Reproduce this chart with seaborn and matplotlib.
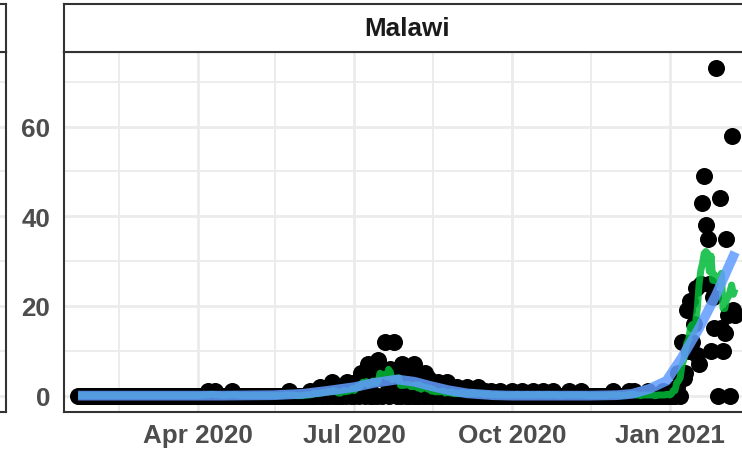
import numpy as np
import pandas as pd
import seaborn as sns
import matplotlib.pyplot as plt

# daily deaths, Malawi; every day not listed below is 0
start_date = "2020-01-22"
end_date = "2021-02-08"

death_days = [
    "2020-04-07", "2020-04-11", "2020-04-21", "2020-05-24",
    "2020-06-05", "2020-06-09", "2020-06-11", "2020-06-14", "2020-06-16", "2020-06-18",
    "2020-06-20", "2020-06-22", "2020-06-25", "2020-06-27", "2020-06-28", "2020-06-30",
    "2020-07-02", "2020-07-03", "2020-07-05", "2020-07-06", "2020-07-08", "2020-07-09",
    "2020-07-11", "2020-07-13", "2020-07-15", "2020-07-16", "2020-07-18", "2020-07-19",
    "2020-07-20", "2020-07-22", "2020-07-23", "2020-07-24", "2020-07-25", "2020-07-27",
    "2020-07-29", "2020-07-30", "2020-08-01", "2020-08-03", "2020-08-05", "2020-08-07",
    "2020-08-09", "2020-08-11", "2020-08-13", "2020-08-15", "2020-08-17", "2020-08-19",
    "2020-08-22", "2020-08-24", "2020-08-27", "2020-08-30", "2020-09-02", "2020-09-05",
    "2020-09-08", "2020-09-11", "2020-09-15", "2020-09-19", "2020-09-24",
    "2020-10-01", "2020-10-07", "2020-10-13", "2020-10-19", "2020-10-25", "2020-11-03",
    "2020-11-10", "2020-11-29", "2020-12-08", "2020-12-11", "2020-12-19", "2020-12-28",
    "2021-01-02", "2021-01-05", "2021-01-06", "2021-01-08", "2021-01-09", "2021-01-10",
    "2021-01-11", "2021-01-12", "2021-01-13", "2021-01-14", "2021-01-15", "2021-01-16",
    "2021-01-17", "2021-01-18", "2021-01-19", "2021-01-20", "2021-01-21", "2021-01-22",
    "2021-01-23", "2021-01-24", "2021-01-25", "2021-01-26", "2021-01-27", "2021-01-28",
    "2021-01-30", "2021-01-31", "2021-02-01", "2021-02-02", "2021-02-03", "2021-02-04",
    "2021-02-06", "2021-02-07", "2021-02-08",
]
death_counts = [
    1, 1, 1, 1,
    1, 1, 2, 1, 2, 3,
    1, 2, 1, 3, 2, 1,
    3, 2, 5, 3, 4, 7,
    3, 5, 8, 4, 6, 12,
    3, 6, 2, 12, 2, 4,
    7, 3, 2, 5, 7, 2,
    3, 5, 4, 1, 2, 3,
    1, 3, 1, 2, 1, 2,
    1, 2, 1, 1, 1,
    1, 1, 1, 1, 1, 1,
    1, 1, 1, 1, 1, 1,
    1, 2, 5, 12, 4, 5,
    19, 10, 21, 12, 16, 24,
    9, 7, 25, 43, 49, 38,
    35, 25, 10, 22, 15, 73,
    44, 15, 10, 14, 35, 18,
    58, 19, 18,
]

# blue smooth
smooth_days = [
    "2020-01-22", "2020-03-01", "2020-04-15", "2020-05-15", "2020-06-01", "2020-06-16",
    "2020-07-01", "2020-07-12", "2020-07-26", "2020-08-05", "2020-08-15", "2020-08-25",
    "2020-09-05", "2020-09-20", "2020-10-01", "2020-10-15", "2020-11-15", "2020-12-01",
    "2020-12-10", "2020-12-20", "2020-12-30", "2021-01-08", "2021-01-18", "2021-01-28",
    "2021-02-08",
]
smooth_values = [
    0.0, 0.0, 0.0, 0.1, 0.4, 1.1,
    1.9, 2.8, 3.6, 3.1, 2.1, 1.2,
    0.5, 0.1, 0.0, 0.0, 0.0, 0.1,
    0.4, 1.5, 3.3, 8.5, 15.0, 22.5,
    32.0,
]

country = "Malawi"
major_dates = ["2020-04-01", "2020-07-01", "2020-10-01", "2021-01-01"]
major_labels = ["Apr 2020", "Jul 2020", "Oct 2020", "Jan 2021"]
minor_dates = ["2020-02-15", "2020-05-16", "2020-08-16", "2020-11-16", "2021-02-15"]
y_major = [0, 20, 40, 60]
y_minor = [10, 30, 50, 70]

df = pd.DataFrame({"date": pd.date_range(start_date, end_date, freq="D")})
counts = dict(zip(pd.to_datetime(death_days), death_counts))
df["deaths"] = df["date"].map(counts).fillna(0)
df["avg7"] = df["deaths"].rolling(7, center=True, min_periods=1).mean()

smooth = pd.DataFrame({"date": pd.to_datetime(smooth_days), "fit": smooth_values})

sns.set_theme(style="white")
plt.rcParams["font.family"] = ["Liberation Sans", "DejaVu Sans"]

W, H = 742, 456
fig = plt.figure(figsize=(W / 100, H / 100), dpi=100)


def px_axes(left, top, right, bottom):
    return fig.add_axes([left / W, (H - bottom) / H, (right - left) / W, (bottom - top) / H])


border = "#333333"
grid_col = "#ebebeb"

ax = px_axes(64, 53, 751, 413)
strip = px_axes(64, 5, 751, 53)
ax_prev = px_axes(-200, 53, 5.5, 413)
strip_prev = px_axes(-200, 5, 5.5, 53)

sns.scatterplot(data=df, x="date", y="deaths", color="black", s=150, linewidth=0, ax=ax, zorder=2)
sns.lineplot(data=df, x="date", y="avg7", color="#00BA38", alpha=0.85, lw=5,
             solid_capstyle="butt", ax=ax, zorder=3)
sns.lineplot(data=smooth, x="date", y="fit", color="#619CFF", alpha=0.85, lw=7,
             solid_capstyle="butt", ax=ax, zorder=4)

ax.set_xlim(pd.Timestamp("2020-01-13 19:00"), pd.Timestamp("2021-02-17 07:00"))
ax.set_ylim(-3.65, 76.65)
ax.set_xticks(pd.to_datetime(major_dates))
ax.set_xticklabels(major_labels)
ax.set_xticks(pd.to_datetime(minor_dates), minor=True)
ax.set_yticks(y_major)
ax.set_yticks(y_minor, minor=True)
ax.set_xlabel("")
ax.set_ylabel("")

for a in (ax, ax_prev):
    a.set_axisbelow(True)
    a.grid(which="major", color=grid_col, lw=2.0)
    a.grid(which="minor", color=grid_col, lw=1.3)
    for s in a.spines.values():
        s.set_color(border)
        s.set_linewidth(1.5)

ax.tick_params(which="major", length=5, width=1.4, color=border, labelsize=18.7,
               labelcolor="#4d4d4d", pad=3)
ax.tick_params(axis="y", pad=5)
ax.tick_params(which="minor", length=0)
for lab in ax.get_xticklabels() + ax.get_yticklabels():
    lab.set_fontweight("bold")

ax_prev.set_ylim(-3.65, 76.65)
ax_prev.set_yticks(y_major)
ax_prev.set_yticks(y_minor, minor=True)
ax_prev.set_xticks([])
ax_prev.set_yticklabels([])
ax_prev.tick_params(length=0, which="both")

for st in (strip, strip_prev):
    st.set_facecolor("white")
    st.set_xticks([])
    st.set_yticks([])
    for s in st.spines.values():
        s.set_color(border)
        s.set_linewidth(1.5)

strip.text(0.5, 0.5, country, ha="center", va="center", fontsize=18.7,
           fontweight="bold", color="#1a1a1a", transform=strip.transAxes)

fig.savefig("out.png", dpi=100)
